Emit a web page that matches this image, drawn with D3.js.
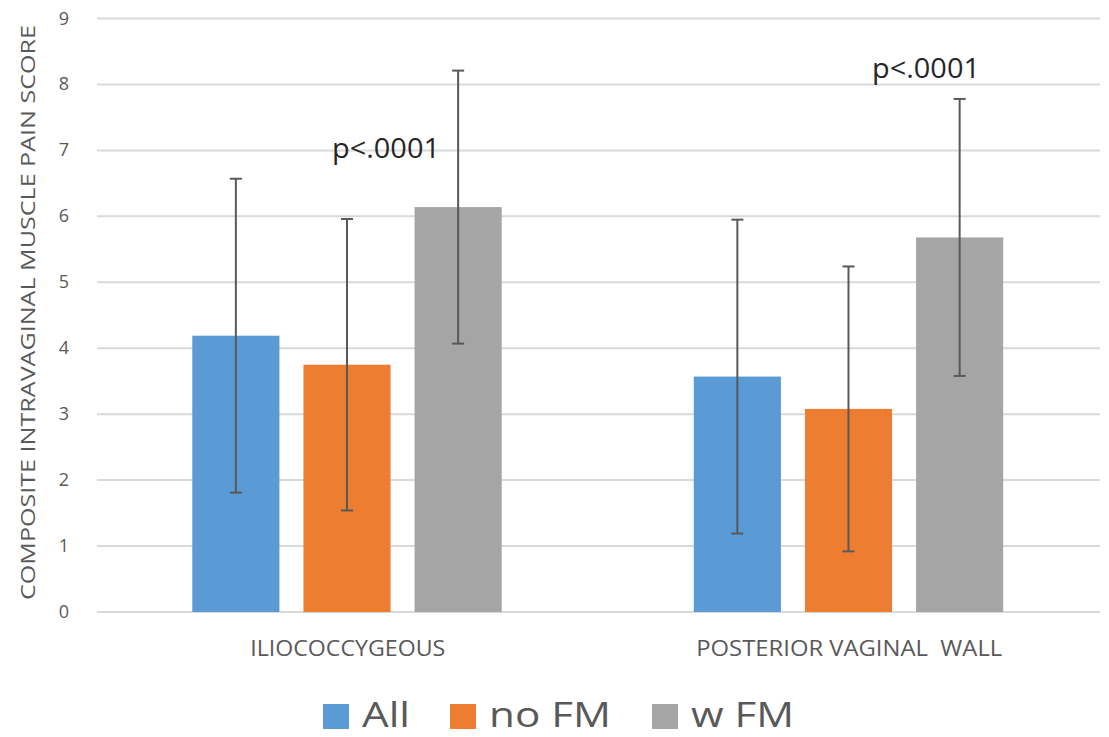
<!DOCTYPE html>
<html>
<head>
<meta charset="utf-8">
<script src="https://cdn.jsdelivr.net/npm/d3@7"></script>
<style>
  body { margin: 0; background: #fff; }
  svg text { font-family: "Open Sans", sans-serif; }
</style>
</head>
<body>
<div id="chart"></div>
<script>
const categories = ["ILIOCOCCYGEOUS", "POSTERIOR VAGINAL  WALL"];
const seriesNames = ["All", "no FM", "w FM"];
const seriesColors = ["#5b9bd5", "#ed7d31", "#a5a5a5"];
const allValues = [4.19, 3.57];
const allErrors = [2.38, 2.38];
const noFmValues = [3.75, 3.08];
const noFmErrors = [2.21, 2.16];
const wFmValues = [6.14, 5.68];
const wFmErrors = [2.07, 2.10];
const pLabels = ["p<.0001", "p<.0001"];
const yTicks = [0, 1, 2, 3, 4, 5, 6, 7, 8, 9];

const values = [allValues, noFmValues, wFmValues];
const errors = [allErrors, noFmErrors, wFmErrors];

const width = 1109, height = 737;
const svg = d3.select("#chart").append("svg")
  .attr("width", width)
  .attr("height", height);

const x0 = d3.scaleBand().domain(categories).range([97, 1100]);
const x1 = d3.scaleBand().domain(seriesNames)
  .range([x0.bandwidth() * 0.19, x0.bandwidth() * 0.807])
  .paddingInner(0.216);
const y = d3.scaleLinear().domain([0, 9]).range([612, 18.5]);

// gridlines
svg.append("g").selectAll("line")
  .data(yTicks)
  .enter().append("line")
  .attr("x1", 97)
  .attr("x2", 1100)
  .attr("y1", d => y(d))
  .attr("y2", d => y(d))
  .attr("stroke", "#d9d9d9")
  .attr("stroke-width", 2);

// y tick labels
svg.append("g").selectAll("text")
  .data(yTicks)
  .enter().append("text")
  .attr("x", 69)
  .attr("y", d => y(d) + 6)
  .attr("text-anchor", "end")
  .attr("fill", "#595959")
  .style("font-size", "18px")
  .text(d => d);

// bars
const groups = svg.append("g").selectAll("g")
  .data(categories)
  .enter().append("g")
  .attr("transform", d => `translate(${x0(d)},0)`);

seriesNames.forEach((s, si) => {
  groups.append("rect")
    .attr("x", x1(s))
    .attr("y", (d, ci) => y(values[si][ci]))
    .attr("width", x1.bandwidth())
    .attr("height", (d, ci) => y(0) - y(values[si][ci]))
    .attr("fill", seriesColors[si]);
});

// error bars
seriesNames.forEach((s, si) => {
  const cx = x1(s) + x1.bandwidth() / 2;
  groups.each(function(d, ci) {
    const g = d3.select(this);
    const hi = y(values[si][ci] + errors[si][ci]);
    const lo = y(values[si][ci] - errors[si][ci]);
    g.append("line").attr("x1", cx).attr("x2", cx).attr("y1", hi).attr("y2", lo)
      .attr("stroke", "#595959").attr("stroke-width", 2);
    [hi, lo].forEach(v => {
      g.append("line").attr("x1", cx - 6).attr("x2", cx + 6).attr("y1", v).attr("y2", v)
        .attr("stroke", "#595959").attr("stroke-width", 2);
    });
  });
});

// p-value labels
const pPos = [[386, 158], [926, 78]];
svg.append("g").selectAll("text")
  .data(pLabels)
  .enter().append("text")
  .attr("x", (d, i) => pPos[i][0] - 54)
  .attr("y", (d, i) => pPos[i][1])
  .attr("fill", "#262626")
  .attr("textLength", 108)
  .attr("lengthAdjust", "spacingAndGlyphs")
  .style("font-size", "27px")
  .text(d => d);

// x category labels
const catWidths = [195, 306];
svg.append("g").selectAll("text")
  .data(categories)
  .enter().append("text")
  .attr("x", (d, i) => x0(d) + x0.bandwidth() / 2 - catWidths[i] / 2)
  .attr("y", 656)
  .attr("fill", "#595959")
  .attr("textLength", (d, i) => catWidths[i])
  .attr("lengthAdjust", "spacingAndGlyphs")
  .attr("xml:space", "preserve")
  .style("white-space", "pre")
  .style("font-size", "21px")
  .text(d => d);

// y axis title
svg.append("text")
  .attr("transform", "translate(35,600)rotate(-90)")
  .attr("fill", "#595959")
  .attr("textLength", 575)
  .attr("lengthAdjust", "spacingAndGlyphs")
  .style("font-size", "20px")
  .text("COMPOSITE INTRAVAGINAL MUSCLE PAIN SCORE");

// legend
const legendX = [323, 450, 652];
const legendTextW = [48, 122, 103];
const legend = svg.append("g").selectAll("g")
  .data(seriesNames)
  .enter().append("g")
  .attr("transform", (d, i) => `translate(${legendX[i]},0)`);

legend.append("rect")
  .attr("x", 0)
  .attr("y", 704)
  .attr("width", 26)
  .attr("height", 25)
  .attr("fill", (d, i) => seriesColors[i]);

legend.append("text")
  .attr("x", 39)
  .attr("y", 727)
  .attr("fill", "#595959")
  .attr("textLength", (d, i) => legendTextW[i])
  .attr("lengthAdjust", "spacingAndGlyphs")
  .style("font-size", "35px")
  .text(d => d);
</script>
</body>
</html>
